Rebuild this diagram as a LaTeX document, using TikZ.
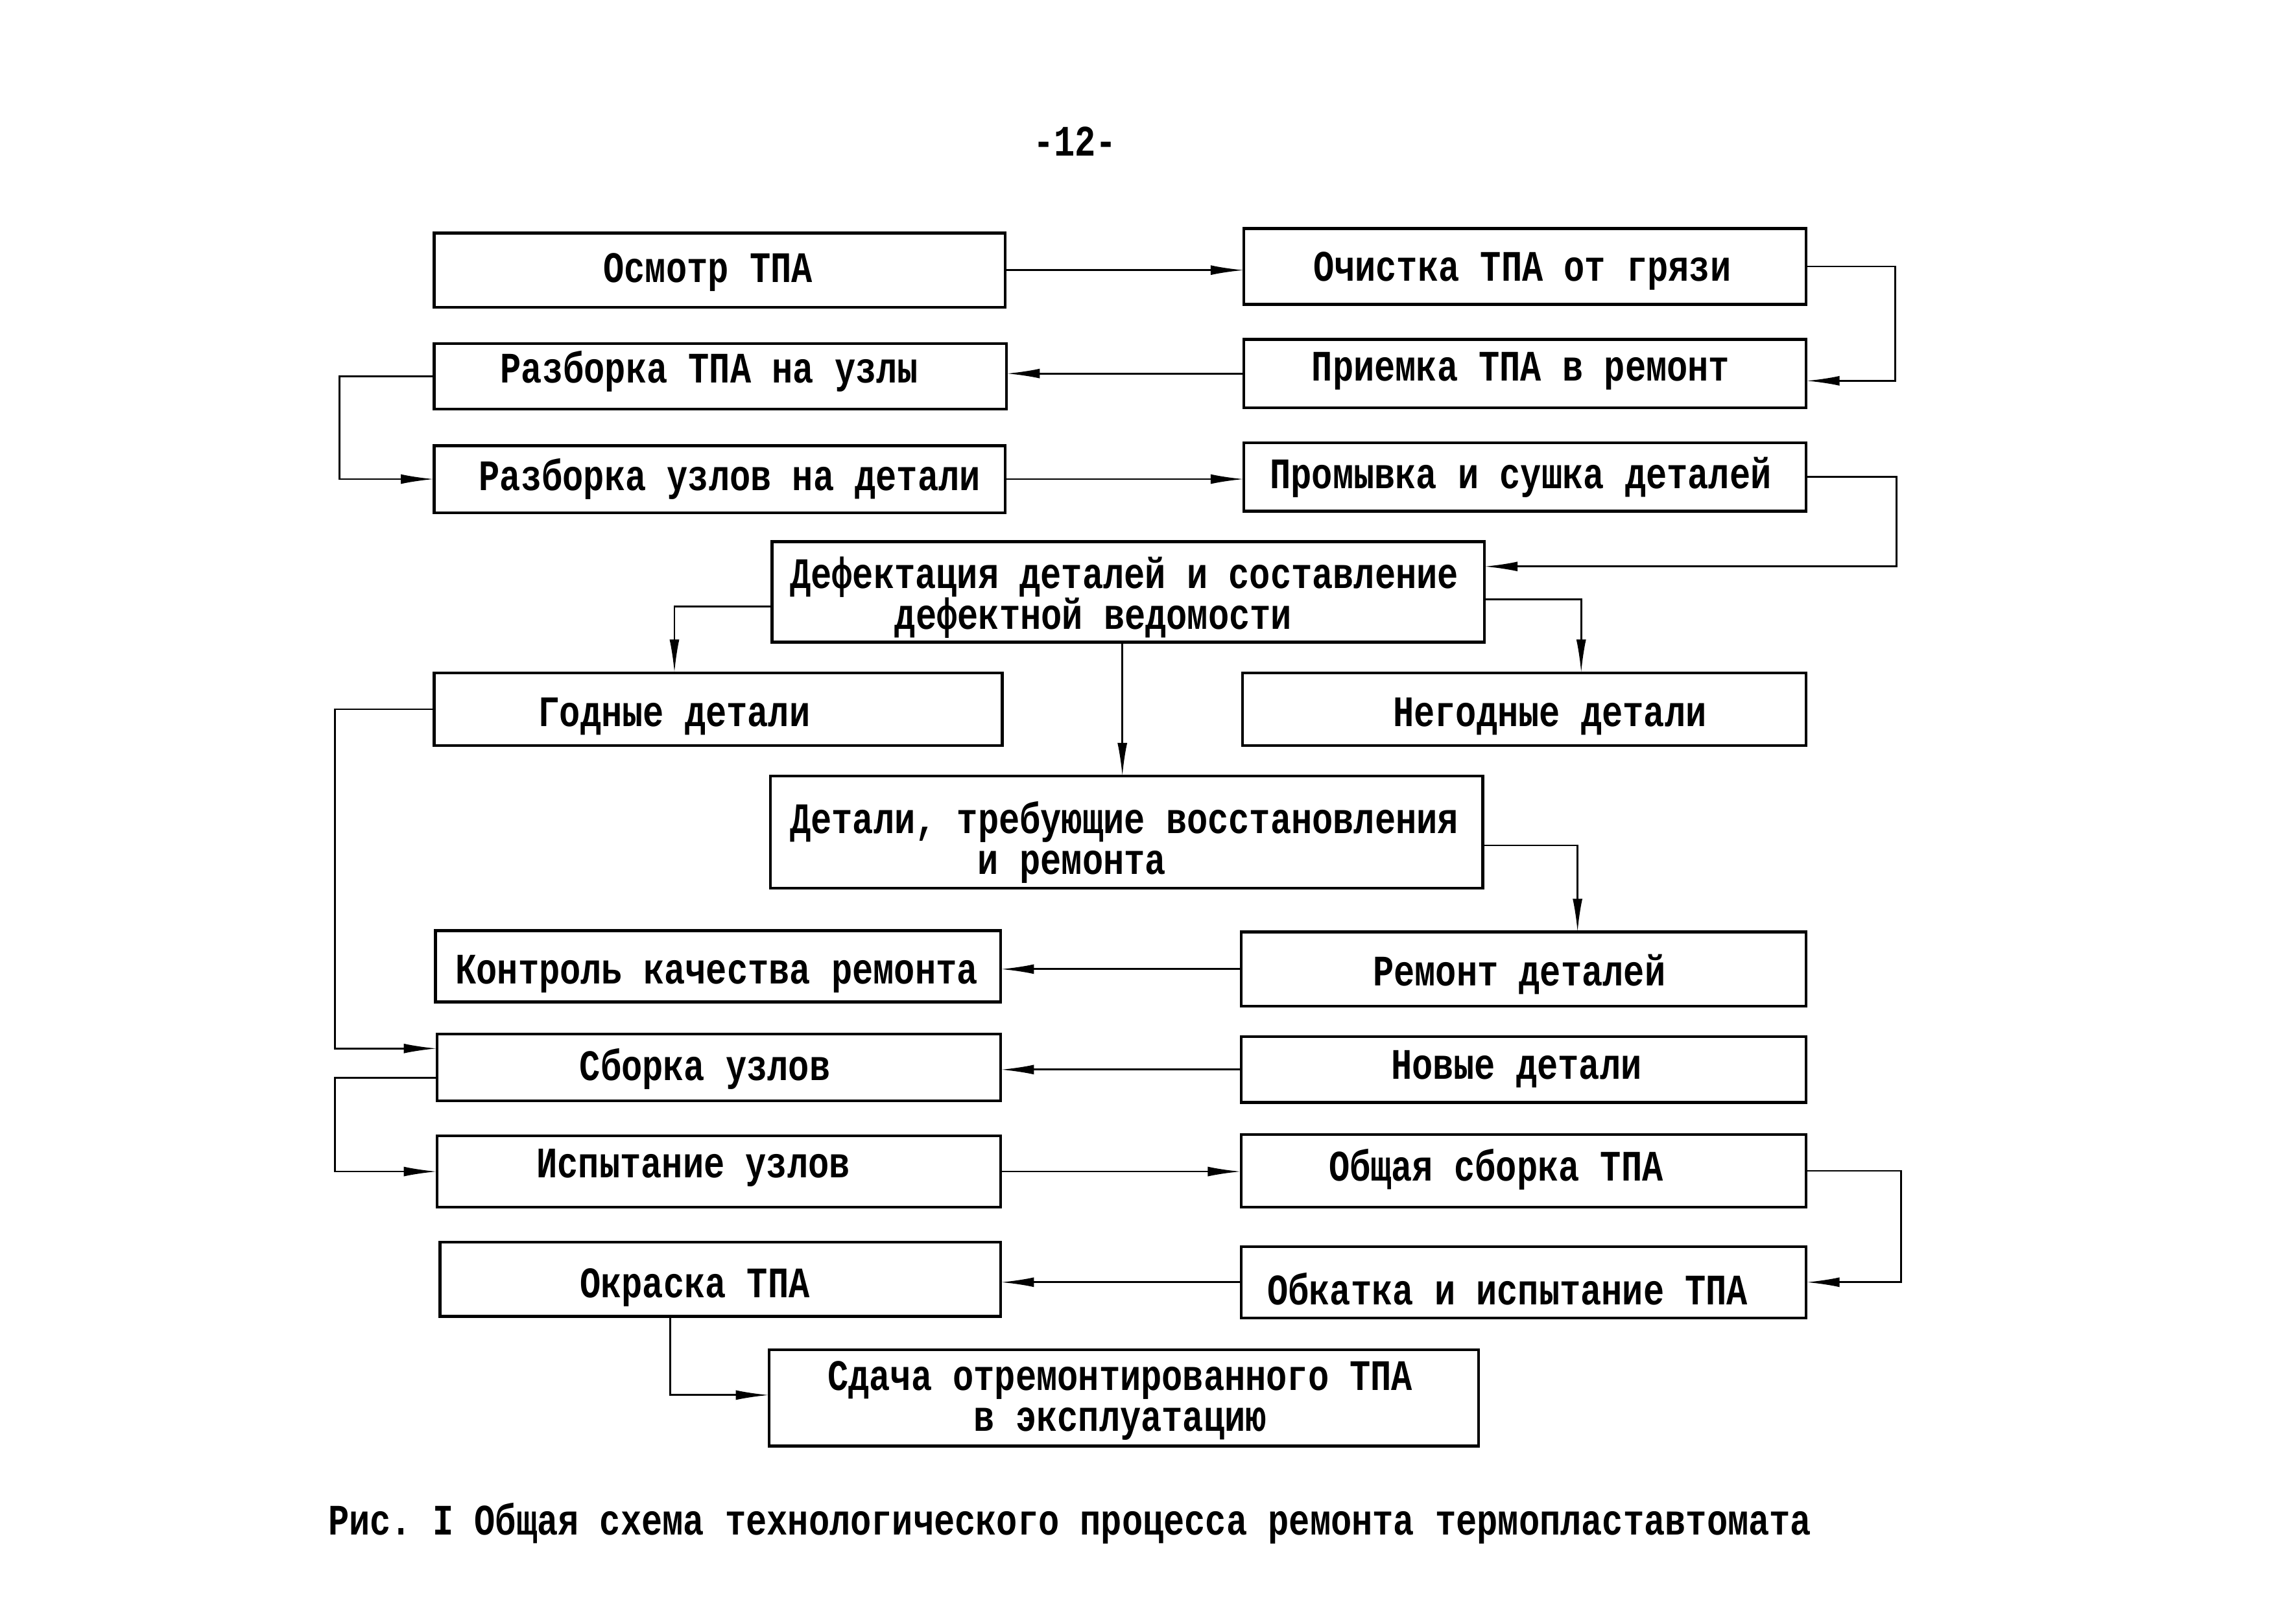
\documentclass[tikz,border=0pt]{standalone}
\usepackage{fontspec}
\newfontfamily\tw[FakeStretch=0.8]{Liberation Mono}
\usetikzlibrary{arrows.meta,fit,calc}
\frenchspacing
\tikzset{
  box/.style={draw, line width=1.1pt, inner sep=0pt, outer sep=0pt, rectangle},
  txt/.style={inner sep=0pt, font=\tw\bfseries\fontsize{17}{16}\selectfont, anchor=center},
  conn/.style={line width=0.7pt, -{Latex[length=13pt,width=3.8pt]}},
}
\begin{document}
\begin{tikzpicture}[x=0.2mm, y=-0.2mm]
\useasboundingbox (0,0) rectangle (1568,1115);
\fill[white] (0,0) rectangle (1568,1115);

% page number
\node[txt] (pnum) at (738,97) {-12-};

% boxes
\node[box, fit={(298,160) (690,211)}] (osm) {};
\node[box, fit={(854,157) (1240,209)}] (och) {};
\node[box, fit={(298,236) (691,281)}] (raz1) {};
\node[box, fit={(854,233) (1240,280)}] (pri) {};
\node[box, fit={(298,306) (690,352)}] (raz2) {};
\node[box, fit={(854,304) (1240,351)}] (pro) {};
\node[box, fit={(530,372) (1019,441)}] (def) {};
\node[box, fit={(298,462) (688,512)}] (god) {};
\node[box, fit={(853,462) (1240,512)}] (neg) {};
\node[box, fit={(529,533) (1018,610)}] (det) {};
\node[box, fit={(299,639) (687,688)}] (kon) {};
\node[box, fit={(852,640) (1240,691)}] (rem) {};
\node[box, fit={(300,710) (687,756)}] (sbo) {};
\node[box, fit={(852,712) (1240,757)}] (nov) {};
\node[box, fit={(300,780) (687,829)}] (isp) {};
\node[box, fit={(852,779) (1240,829)}] (obs) {};
\node[box, fit={(302,853) (687,904)}] (okr) {};
\node[box, fit={(852,856) (1240,905)}] (obk) {};
\node[box, fit={(528,927) (1015,993)}] (sda) {};

% texts
\node[txt] (osm-t) at (486,187) {Осмотр ТПА};
\node[txt] (och-t) at (1045,186) {Очистка ТПА от грязи};
\node[txt] (raz1-t) at (487,255) {Разборка ТПА на узлы};
\node[txt] (pri-t) at (1044,255) {Приемка ТПА в ремонт};
\node[txt] (raz2-t) at (501,329) {Разборка узлов на детали};
\node[txt] (pro-t) at (1044,328) {Промывка и сушка деталей};
\node[txt, anchor=north west, align=left] (def-t) at (542,382) {Дефектация деталей и составление\\\hspace*{14.4mm}дефектной ведомости};
\node[txt] (god-t) at (463,492) {Годные детали};
\node[txt] (neg-t) at (1064,492) {Негодные детали};
\node[txt, anchor=north west, align=left] (det-t) at (542,550) {Детали, требующие восстановления\\\hspace*{25.8mm}и ремонта};
\node[txt] (kon-t) at (492,669) {Контроль качества ремонта};
\node[txt] (rem-t) at (1043,669) {Ремонт деталей};
\node[txt] (sbo-t) at (484,734) {Сборка узлов};
\node[txt] (nov-t) at (1041,734) {Новые детали};
\node[txt] (isp-t) at (476,802) {Испытание узлов};
\node[txt] (obs-t) at (1027,803) {Общая сборка ТПА};
\node[txt] (okr-t) at (477,884) {Окраска ТПА};
\node[txt] (obk-t) at (1035,885) {Обкатка и испытание ТПА};
\node[txt, align=center] (sda-t) at (769,962) {Сдача отремонтированного ТПА\\в эксплуатацию};

% caption
\node[txt, anchor=west] (cap) at (225,1046) {Рис. I Общая схема технологического процесса ремонта термопластавтомата};

% connectors
\draw[conn] (osm.east) -- (osm.east -| och.west);
\draw[conn] (och.east) -- ++(61,0) |- ($(pri.east)+(0,5)$);
\draw[conn] (pri.west) -- (pri.west -| raz1.east);
\draw[conn] (raz1.west) -- ++(-65,0) |- (raz2.west);
\draw[conn] (raz2.east) -- (raz2.east -| pro.west);
\draw[conn] (pro.east) -- ++(62,0) |- ($(def.east)+(0,-17.5)$);
\draw[conn] ($(def.west)+(0,10)$) -| ($(god.north)+(-30,0)$);
\draw[conn] ($(def.east)+(0,5)$) -| ($(neg.north)+(39,0)$);
\draw[conn] ($(def.south)+(-4,0)$) -- ($(det.north)+(-3,0)$);
\draw[conn] ($(det.east)+(0,9)$) -| ($(rem.north)+(37,0)$);
\draw[conn] (rem.west) -- (rem.west -| kon.east);
\draw[conn] (god.west) -- ++(-68,0) |- ($(sbo.west)+(0,-13)$);
\draw[conn] (nov.west) -- (nov.west -| sbo.east);
\draw[conn] ($(sbo.west)+(0,7)$) -- ++(-70,0) |- (isp.west);
\draw[conn] (isp.east) -- (isp.east -| obs.west);
\draw[conn] (obs.east) -- ++(65,0) |- (obk.east);
\draw[conn] (obk.west) -- (obk.west -| okr.east);
\draw[conn] ($(okr.south)+(-34.5,0)$) |- ($(sda.west)+(0,-2)$);
\end{tikzpicture}
\end{document}
